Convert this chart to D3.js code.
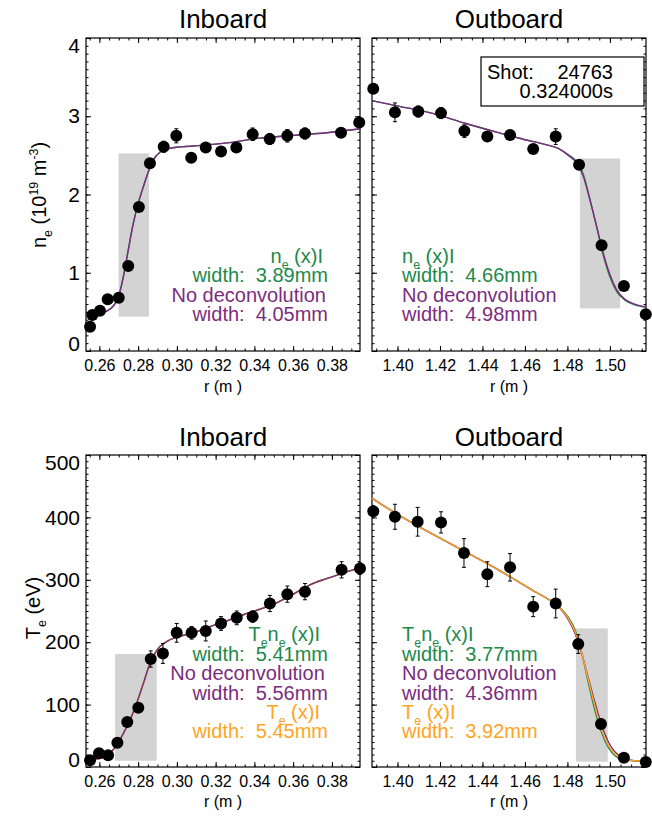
<!DOCTYPE html>
<html><head><meta charset="utf-8">
<script src="https://cdn.jsdelivr.net/npm/d3@7"></script>
<style>body{margin:0;background:#fff}svg{display:block}text{font-family:"Liberation Sans",Arial,Helvetica,sans-serif;white-space:pre}</style>
</head><body>
<svg id="c" width="652" height="817"></svg>
<script>
// ---------- DATA ----------
// n_e inboard
const neInR   = [0.2552,0.2564,0.2603,0.2643,0.2700,0.2749,0.2804,0.2861,0.2932,0.2997,0.3074,0.3149,0.3228,0.3307,0.3391,0.3479,0.3570,0.3661,0.3847,0.3941];
const neInV   = [0.31,0.46,0.515,0.66,0.68,1.085,1.84,2.40,2.61,2.75,2.47,2.60,2.55,2.60,2.77,2.71,2.75,2.78,2.79,2.92];
const neInE   = [0.03,0.03,0.03,0.04,0.04,0.05,0.05,0.06,0.07,0.09,0.05,0.06,0.05,0.06,0.08,0.07,0.08,0.07,0.06,0.06];
const neInFitR = [0.2531,0.2586,0.2638,0.2672,0.2698,0.2724,0.2749,0.2775,0.2801,0.2827,0.2853,0.2878,0.2913,0.2964,0.3085,0.3257,0.3429,0.3601,0.3773,0.3950];
const neInFitV = [0.45,0.47,0.51,0.575,0.69,0.95,1.29,1.63,1.89,2.10,2.29,2.44,2.54,2.59,2.62,2.66,2.72,2.755,2.79,2.84];
// n_e outboard
const neOutR  = [1.3886,1.3988,1.4098,1.4205,1.4315,1.4423,1.4530,1.4639,1.4745,1.4855,1.4961,1.5066,1.5169];
const neOutV  = [3.35,3.05,3.06,3.04,2.81,2.74,2.76,2.58,2.74,2.38,1.35,0.83,0.47];
const neOutE  = [0.06,0.12,0.07,0.07,0.08,0.05,0.06,0.05,0.10,0.05,0.04,0.03,0.03];
const neOutFitR = [1.3879,1.4004,1.4161,1.4318,1.4475,1.4600,1.4694,1.4757,1.4804,1.4844,1.4875,1.4906,1.4938,1.4969,1.5001,1.5032,1.5071,1.5117,1.5173];
const neOutNoDecV = [3.20,3.13,3.04,2.91,2.79,2.70,2.64,2.59,2.50,2.40,2.23,1.93,1.59,1.25,0.97,0.78,0.66,0.60,0.56];
const neOutDecV   = [3.20,3.13,3.04,2.91,2.79,2.70,2.64,2.59,2.51,2.42,2.26,1.94,1.58,1.22,0.94,0.76,0.65,0.59,0.56];
// T_e inboard
const teInR   = [0.2552,0.2598,0.2645,0.2693,0.2744,0.2801,0.2865,0.2928,0.2999,0.3076,0.3149,0.3228,0.3309,0.3391,0.3480,0.3570,0.3661,0.3850,0.3945];
const teInV   = [11,22,19,39,72,95,173,182,215,215,218,230,239,241,262,277,281,316,318];
const teInE   = [4,4,4,5,6,6,13,16,15,10,16,11,11,9,13,13,13,13,9];
const teInFitR = [0.2531,0.2603,0.2655,0.2689,0.2724,0.2758,0.2792,0.2827,0.2861,0.2896,0.2947,0.2999,0.3085,0.3171,0.3257,0.3343,0.3429,0.3515,0.3601,0.3687,0.3773,0.3859,0.3950];
const teInFitV = [12,14,22,35,54,75,102,134,166,187,201,208,215,225,234,244,253,263,277,292,302,311,320];
// T_e outboard
const teOutR  = [1.3886,1.3988,1.4095,1.4205,1.4313,1.4423,1.4530,1.4639,1.4745,1.4851,1.4958,1.5066,1.5169];
const teOutV  = [410,401,393,392,343,309,320,257,262,197,69,15,8];
const teOutE  = [6,20,23,17,23,20,22,16,23,15,8,5,4];
const teOutFitR = [1.3879,1.4004,1.4161,1.4318,1.4475,1.4632,1.4726,1.4773,1.4804,1.4836,1.4868,1.4899,1.4930,1.4962,1.4993,1.5024,1.5071,1.5118,1.5173];
const teOutTeV    = [431,404,374,345,316,284,265,252,238,217,182,139,97,59,35,21,12,10,8];
const teOutTeNeV  = [431,404,374,345,316,284,265,253,240,220,182,134,90,54,31,18,11,10,8];
const teOutNoDecV = [431,404,374,345,316,284,265,251,236,214,181,142,103,66,40,24,13,10,8];
// shaded regions [r0, r1, v0, v1]
const neInBand  = [0.2699,0.2856,0.438,2.525];
const neOutBand = [1.4859,1.5048,0.545,2.46];
const teInBand  = [0.2681,0.2896,10,181];
const teOutBand = [1.484,1.499,8.5,222];
// ticks
const xInTicks  = [0.26,0.28,0.30,0.32,0.34,0.36,0.38];
const xOutTicks = [1.40,1.42,1.44,1.46,1.48,1.50];
const neTicks   = [0,1,2,3,4];
const teTicks   = [0,100,200,300,400,500];
// texts
const titles = ["Inboard","Outboard"];
const neWidthDec = ["3.89mm","4.66mm"];
const neWidthNo  = ["4.05mm","4.98mm"];
const teWidthDec = ["5.41mm","3.77mm"];
const teWidthNo  = ["5.56mm","4.36mm"];
const teWidthTe  = ["5.45mm","3.92mm"];
const shotLabel = "Shot:", shotNum = "24763", shotTime = "0.324000s";

// ---------- STYLE ----------
const GREEN = "#22894a", PURPLE = "#7c2c7e", ORANGE = "#ffa424", GRAY = "#d3d3d3";
const svg = d3.select("#c");

const xIn  = d3.scaleLinear().domain([0.2531,0.3945]).range([86,360]);
const xOut = d3.scaleLinear().domain([1.388,1.517]).range([372,646]);
const yNe  = d3.scaleLinear().domain([0,4]).range([351,38]);
const yTe  = d3.scaleLinear().domain([0,500]).range([767,455]);

function minorVals(domain, step){
  const out=[]; const s=Math.ceil(domain[0]/step-1e-9), e=Math.floor(domain[1]/step+1e-9);
  for(let i=s;i<=e;i++) out.push(+(i*step).toFixed(6));
  return out;
}

function panel(x, y, xTicks, xMinor, yTicks, yMinor, showY){
  const [x0,x1]=x.range(), [yb,yt]=y.range();
  const g = svg.append("g");
  const fmtX = d3.format(".2f");
  const bot = g.append("g").attr("transform",`translate(0,${yb})`)
    .call(d3.axisBottom(x).tickValues(xTicks).tickSize(-5).tickPadding(8.6).tickFormat(fmtX));
  g.append("g").attr("transform",`translate(0,${yb})`)
    .call(d3.axisBottom(x).tickValues(minorVals(x.domain(),xMinor)).tickSize(-2.5).tickFormat(""));
  g.append("g").attr("transform",`translate(0,${yt})`)
    .call(d3.axisTop(x).tickValues(xTicks).tickSize(-5).tickFormat(""));
  g.append("g").attr("transform",`translate(0,${yt})`)
    .call(d3.axisTop(x).tickValues(minorVals(x.domain(),xMinor)).tickSize(-2.5).tickFormat(""));
  const left = g.append("g").attr("transform",`translate(${x0},0)`)
    .call(d3.axisLeft(y).tickValues(yTicks).tickSize(-5).tickPadding(6).tickFormat(showY? d3.format("d") : ""));
  g.append("g").attr("transform",`translate(${x0},0)`)
    .call(d3.axisLeft(y).tickValues(minorVals(y.domain(),yMinor)).tickSize(-2.5).tickFormat(""));
  g.append("g").attr("transform",`translate(${x1},0)`)
    .call(d3.axisRight(y).tickValues(yTicks).tickSize(-5).tickFormat(""));
  g.append("g").attr("transform",`translate(${x1},0)`)
    .call(d3.axisRight(y).tickValues(minorVals(y.domain(),yMinor)).tickSize(-2.5).tickFormat(""));
  g.selectAll(".domain").remove();
  g.selectAll(".tick line").attr("stroke","#000").attr("stroke-width",1);
  bot.selectAll("text").attr("font-size",16).attr("fill","#000").attr("font-family",null);
  left.selectAll("text").attr("font-size",21).attr("fill","#000").attr("font-family",null);
  const yd = y.domain();
  left.selectAll(".tick").filter(d=>d===yd[1]).select("text").attr("y",7.5);
  left.selectAll(".tick").filter(d=>d===yd[0]).select("text").attr("y",-7.5);
  g.append("rect").attr("x",x0).attr("y",yt).attr("width",x1-x0).attr("height",yb-yt)
    .attr("fill","none").attr("stroke","#000").attr("stroke-width",1.2);
  return g;
}

function band(g, x, y, b){
  g.insert("rect",":first-child").attr("x",x(b[0])).attr("width",x(b[1])-x(b[0]))
    .attr("y",y(b[3])).attr("height",y(b[2])-y(b[3])).attr("fill",GRAY);
}
function fit(g, x, y, R, V, color){
  const line = d3.line().x((d,i)=>x(R[i])).y(d=>y(d)).curve(d3.curveMonotoneX);
  g.append("path").attr("d",line(V)).attr("fill","none").attr("stroke",color).attr("stroke-width",1.4);
}
function pts(g, x, y, R, V, E){
  const eg = g.append("g").attr("stroke","#000").attr("stroke-width",1);
  R.forEach((r,i)=>{
    const cx=x(r), a=y(V[i]-E[i]), b=y(V[i]+E[i]);
    eg.append("line").attr("x1",cx).attr("x2",cx).attr("y1",a).attr("y2",b);
    eg.append("line").attr("x1",cx-2).attr("x2",cx+2).attr("y1",a).attr("y2",a);
    eg.append("line").attr("x1",cx-2).attr("x2",cx+2).attr("y1",b).attr("y2",b);
  });
  g.append("g").selectAll("circle").data(V).join("circle")
    .attr("cx",(d,i)=>x(R[i])).attr("cy",d=>y(d)).attr("r",6).attr("fill","#000");
}
function rich(g, x, y, parts, color, size, anchor){
  const t = g.append("text").attr("x",x).attr("y",y).attr("fill",color)
    .attr("font-size",size).attr("text-anchor",anchor||"start");
  let shift=0;
  parts.forEach(([s,k])=>{
    const target = k==="b"? size*0.3 : k==="p"? -size*0.42 : 0;
    t.append("tspan").attr("dy",target-shift).attr("font-size",k==="n"?size:size*0.62).text(s);
    shift=target;
  });
  return t;
}

const gA = panel(xIn, yNe, xInTicks, 0.005, neTicks, 0.1, true);
const gB = panel(xOut, yNe, xOutTicks, 0.005, neTicks, 0.1, false);
const gC = panel(xIn, yTe, xInTicks, 0.005, teTicks, 10, true);
const gD = panel(xOut, yTe, xOutTicks, 0.005, teTicks, 10, false);

band(gA,xIn,yNe,neInBand); band(gB,xOut,yNe,neOutBand);
band(gC,xIn,yTe,teInBand); band(gD,xOut,yTe,teOutBand);

const data = svg.append("g");
fit(data,xIn,yNe,neInFitR,neInFitV,GREEN); fit(data,xIn,yNe,neInFitR,neInFitV,PURPLE);
fit(data,xOut,yNe,neOutFitR,neOutDecV,GREEN); fit(data,xOut,yNe,neOutFitR,neOutNoDecV,PURPLE);
fit(data,xIn,yTe,teInFitR,teInFitV,GREEN); fit(data,xIn,yTe,teInFitR,teInFitV,ORANGE); fit(data,xIn,yTe,teInFitR,teInFitV,PURPLE);
fit(data,xOut,yTe,teOutFitR,teOutTeNeV,GREEN); fit(data,xOut,yTe,teOutFitR,teOutNoDecV,PURPLE); fit(data,xOut,yTe,teOutFitR,teOutTeV,ORANGE);
pts(data,xIn,yNe,neInR,neInV,neInE);
pts(data,xOut,yNe,neOutR,neOutV,neOutE);
pts(data,xIn,yTe,teInR,teInV,teInE);
pts(data,xOut,yTe,teOutR,teOutV,teOutE);

const T = svg.append("g");
[[223,28],[509,28],[223,446],[509,446]].forEach((p,i)=>{
  T.append("text").attr("x",p[0]).attr("y",p[1]).attr("text-anchor","middle").attr("font-size",26).text(titles[i%2]);
});
[[223,392],[509,392],[223,807],[509,807]].forEach(p=>{
  T.append("text").attr("x",p[0]).attr("y",p[1]).attr("text-anchor","middle").attr("font-size",16).text("r (m )");
});
const yl1 = rich(T,0,0,[["n","n"],["e","b"],[" (10","n"],["19","p"],[" m","n"],["-3","p"],[")","n"]],"#000",20,"middle");
yl1.attr("transform","translate(46,195) rotate(-90)");
const yl2 = rich(T,0,0,[["T","n"],["e","b"],[" (eV)","n"]],"#000",20,"middle");
yl2.attr("transform","translate(40,608) rotate(-90)");

const FS = 20;
rich(T,323,263,[["n","n"],["e","b"],[" (x)I","n"]],GREEN,FS,"end");
rich(T,328,282,[["width:  "+neWidthDec[0],"n"]],GREEN,FS,"end");
rich(T,326,301.5,[["No deconvolution","n"]],PURPLE,FS,"end");
rich(T,328,320.5,[["width:  "+neWidthNo[0],"n"]],PURPLE,FS,"end");
rich(T,402,263,[["n","n"],["e","b"],[" (x)I","n"]],GREEN,FS,"start");
rich(T,402,282,[["width:  "+neWidthDec[1],"n"]],GREEN,FS,"start");
rich(T,402,301.5,[["No deconvolution","n"]],PURPLE,FS,"start");
rich(T,402,320.5,[["width:  "+neWidthNo[1],"n"]],PURPLE,FS,"start");
const teLines = (x,anchor,k,ox)=>{
  rich(T,x+ox,641,[["T","n"],["e","b"],["n","n"],["e","b"],[" (x)I","n"]],GREEN,FS,anchor);
  rich(T,x,661,[["width:  "+teWidthDec[k],"n"]],GREEN,FS,anchor);
  rich(T,x+ox*0.4,680,[["No deconvolution","n"]],PURPLE,FS,anchor);
  rich(T,x,699.5,[["width:  "+teWidthNo[k],"n"]],PURPLE,FS,anchor);
  rich(T,x+ox,718.5,[["T","n"],["e","b"],[" (x)I","n"]],ORANGE,FS,anchor);
  rich(T,x,738,[["width:  "+teWidthTe[k],"n"]],ORANGE,FS,anchor);
};
teLines(328,"end",0,-8);
teLines(402,"start",1,0);

T.append("rect").attr("x",481).attr("y",57).attr("width",163).attr("height",49)
  .attr("fill","#fff").attr("stroke","#000").attr("stroke-width",1.2);
T.append("text").attr("x",487).attr("y",79).attr("font-size",20).text(shotLabel);
T.append("text").attr("x",613).attr("y",79).attr("font-size",20).attr("text-anchor","end").text(shotNum);
T.append("text").attr("x",613).attr("y",98).attr("font-size",20).attr("text-anchor","end").text(shotTime);
</script>
</body></html>
